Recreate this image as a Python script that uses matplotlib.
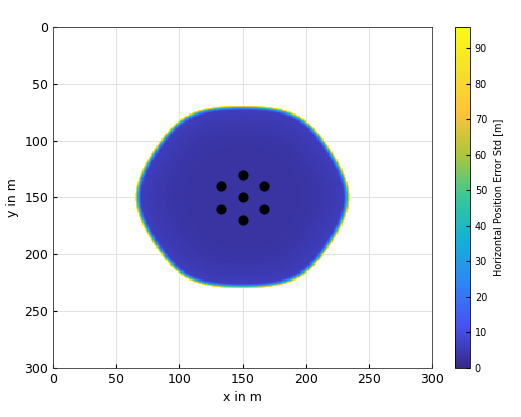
import numpy as np
import matplotlib
matplotlib.use("Agg")
import matplotlib.pyplot as plt
from matplotlib.colors import LinearSegmentedColormap

anchor_x = [150, 133, 167, 150, 133, 167, 150]
anchor_y = [130, 140, 140, 150, 160, 160, 170]
cbar_ticks = [0, 10, 20, 30, 40, 50, 60, 70, 80, 90]
axis_ticks = [0, 50, 100, 150, 200, 250, 300]

parula = LinearSegmentedColormap.from_list("parula", [
    (0.2081, 0.1663, 0.5292), (0.2810, 0.3228, 0.9579), (0.1786, 0.5289, 0.9682),
    (0.0689, 0.6948, 0.8394), (0.2161, 0.7843, 0.5923), (0.6720, 0.7793, 0.2227),
    (0.9970, 0.7659, 0.2199), (0.9657, 0.8800, 0.1560), (0.9769, 0.9839, 0.0805)])

# error field model
xs = np.arange(0, 301)
X, Y = np.meshgrid(xs, xs)
dx, dy = (X - 150.0), (Y - 150.0)
angs = np.deg2rad([90, 30, -30])
p = 7
h = sum(np.abs(dx*np.cos(a) + dy*np.sin(a))**p for a in angs)**(1/p)
dh = h / 81.0
dc = np.hypot(dx/87, dy/81)
d = 0.8*dh + 0.2*dc
Z = 3 + 4*d**4
Z = np.where(d > 0.94, Z + 90*((d-0.94)/0.06)**2, Z)
Z = np.where(d > 1.0, np.nan, Z)

fig = plt.figure(figsize=(5.21, 4.17), dpi=100)
ax = fig.add_axes([0.102, 0.1175, 0.727, 0.818])
im = ax.imshow(Z, cmap=parula, vmin=0, vmax=96, origin="upper",
               extent=[0, 300, 300, 0], interpolation="nearest", aspect="auto", zorder=2)
ax.scatter(anchor_x, anchor_y, s=40, c="k", zorder=3)
ax.set_xlim(0, 300); ax.set_ylim(300, 0)
ax.set_xticks(axis_ticks); ax.set_yticks(axis_ticks)
ax.grid(True, color="#dddddd", linewidth=0.6, zorder=1)
ax.set_axisbelow(True)
ax.set_xlabel("x in m", fontsize=9)
ax.set_ylabel("y in m", fontsize=9)
ax.tick_params(labelsize=9, direction="in", length=3)
for s in ax.spines.values():
    s.set_color("#333333"); s.set_linewidth(0.6)
cax = fig.add_axes([0.873, 0.1175, 0.029, 0.818])
cb = fig.colorbar(im, cax=cax, ticks=cbar_ticks)
cb.set_label("Horizontal Position Error Std [m]", fontsize=7)
cb.ax.tick_params(labelsize=7, direction="in", length=3)
cb.outline.set_linewidth(0.6)
fig.savefig("out.png", dpi=100)
